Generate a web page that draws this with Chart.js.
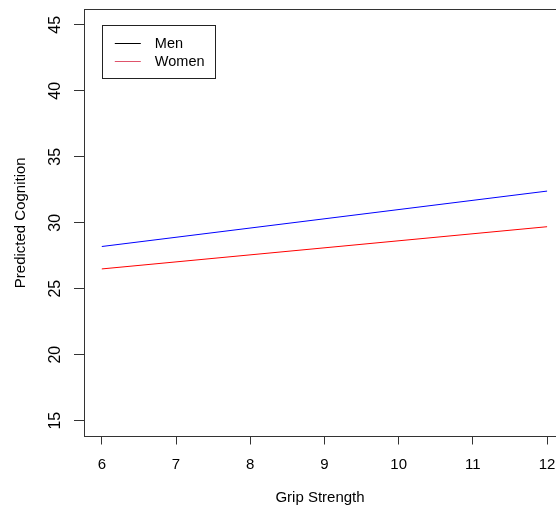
<!DOCTYPE html>
<html>
<head>
<meta charset="utf-8">
<script src="https://cdn.jsdelivr.net/npm/chart.js@4/dist/chart.umd.min.js"></script>
<style>
  html, body { margin: 0; padding: 0; background: #fff; }
  #wrap { position: relative; width: 556px; height: 508px; }
</style>
</head>
<body>
<div id="wrap"><canvas id="c" width="556" height="508"></canvas></div>
<script>
// ---- data ----
const seriesNames = ['Men', 'Women'];
const gripX = [6, 12];
const menY = [28.2, 32.4];
const womenY = [26.5, 29.7];
const lineColors = ['#0000FF', '#FF0000'];
const legendColors = ['#000000', '#DF536B'];
const xTicks = [6, 7, 8, 9, 10, 11, 12];
const yTicks = [15, 20, 25, 30, 35, 40, 45];
const xTitle = 'Grip Strength';
const yTitle = 'Predicted Cognition';
const legendAnchor = { x: 6, y: 45 };

const FONT = 'Arial, "Liberation Sans", sans-serif';

function pts(xs, ys) { return xs.map((x, i) => ({ x: x, y: ys[i] })); }

const rFrame = {
  id: 'rFrame',
  afterDraw(chart) {
    const ctx = chart.ctx;
    const a = chart.chartArea;
    const ys = chart.scales.y, xs = chart.scales.x;
    ctx.save();
    // top border of the box
    ctx.strokeStyle = '#333';
    ctx.lineWidth = 1;
    ctx.beginPath();
    ctx.moveTo(a.left, Math.round(a.top) + 0.5);
    ctx.lineTo(a.right, Math.round(a.top) + 0.5);
    ctx.stroke();
    // rotated y tick labels (R style)
    ctx.fillStyle = '#000';
    ctx.font = '16px ' + FONT;
    ctx.textAlign = 'center';
    ctx.textBaseline = 'middle';
    ys.ticks.forEach(t => {
      const py = ys.getPixelForValue(t.value);
      ctx.save();
      ctx.translate(56, py);
      ctx.rotate(-Math.PI / 2);
      ctx.fillText(String(t.value), 0, 0);
      ctx.restore();
    });
    // legend anchored at data coords (6,45), top-left
    const lx = xs.getPixelForValue(legendAnchor.x);
    const ly = ys.getPixelForValue(legendAnchor.y);
    const w = 113, h = 53;
    ctx.strokeStyle = '#222';
    ctx.lineWidth = 1;
    ctx.strokeRect(Math.round(lx) + 0.5, Math.round(ly) + 0.5, w, h);
    ctx.font = '14.5px ' + FONT;
    ctx.textAlign = 'left';
    seriesNames.forEach((name, i) => {
      const yy = Math.round(ly + 18 + i * 17.7) + 0.5;
      ctx.strokeStyle = legendColors[i];
      ctx.beginPath();
      ctx.moveTo(lx + 13, yy);
      ctx.lineTo(lx + 39, yy);
      ctx.stroke();
      ctx.fillStyle = '#000';
      ctx.fillText(name, lx + 53, yy + 0.5);
    });
    ctx.restore();
  }
};

new Chart(document.getElementById('c'), {
  type: 'line',
  data: {
    datasets: [
      { label: seriesNames[0], data: pts(gripX, menY), borderColor: lineColors[0], borderWidth: 1, pointRadius: 0, tension: 0, fill: false },
      { label: seriesNames[1], data: pts(gripX, womenY), borderColor: lineColors[1], borderWidth: 1, pointRadius: 0, tension: 0, fill: false }
    ]
  },
  options: {
    responsive: false,
    animation: false,
    layout: { padding: { left: 0, top: 9, right: 0, bottom: 1 } },
    plugins: { legend: { display: false }, tooltip: { enabled: false } },
    scales: {
      x: {
        type: 'linear',
        min: 5.76,
        max: 12.12,
        afterBuildTicks: s => { s.ticks = xTicks.map(v => ({ value: v })); },
        afterFit: s => { s.paddingRight = 0; s.paddingLeft = 0; },
        ticks: { color: '#000', font: { family: FONT, size: 15 }, padding: 11.5, maxRotation: 0 },
        grid: { drawOnChartArea: false, drawTicks: true, tickLength: 8, color: '#333', tickWidth: 1 },
        border: { display: true, color: '#333', width: 1 },
        title: { display: true, text: xTitle, color: '#000', font: { family: FONT, size: 15 }, padding: { top: 3.5, bottom: 0 } }
      },
      y: {
        type: 'linear',
        min: 13.8,
        max: 46.2,
        afterBuildTicks: s => { s.ticks = yTicks.map(v => ({ value: v })); },
        ticks: { display: false },
        grid: { drawOnChartArea: false, drawTicks: true, tickLength: 10, color: '#333', tickWidth: 1 },
        border: { display: true, color: '#333', width: 1 },
        title: { display: true, text: yTitle, color: '#000', font: { family: FONT, size: 15 }, padding: { top: 12, bottom: 44 } }
      }
    }
  },
  plugins: [rFrame]
});
</script>
</body>
</html>
